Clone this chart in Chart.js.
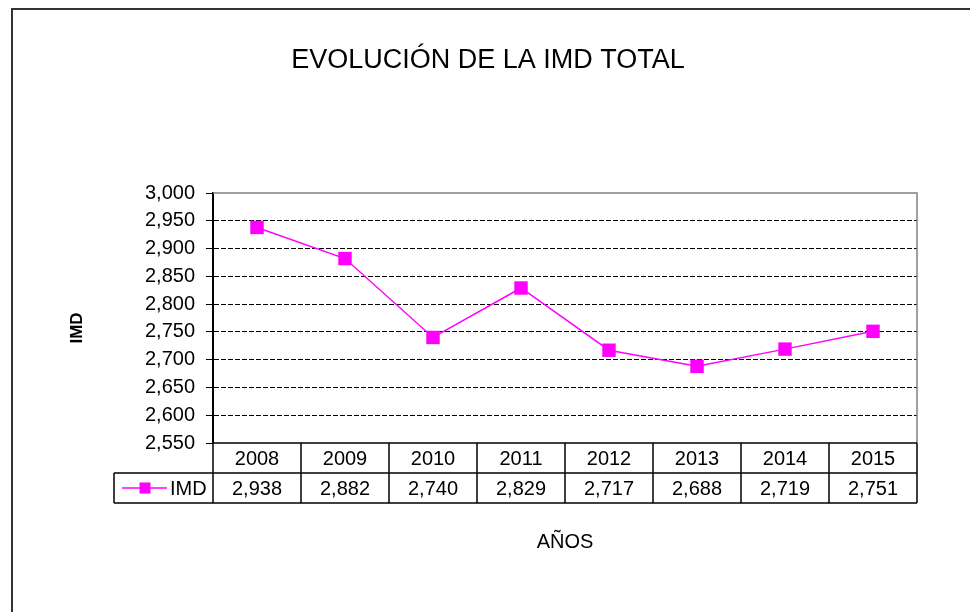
<!DOCTYPE html>
<html>
<head>
<meta charset="utf-8">
<script src="https://cdn.jsdelivr.net/npm/chart.js@4"></script>
<style>
  body { margin: 0; background: #fff; }
  canvas { display: block; }
</style>
</head>
<body>
<canvas id="imdChart" width="970" height="612"></canvas>
<script>
const years = ['2008', '2009', '2010', '2011', '2012', '2013', '2014', '2015'];
const imdValues = [2.938, 2.882, 2.740, 2.829, 2.717, 2.688, 2.719, 2.751];
const seriesName = 'IMD';
const yMin = 2.55;
const yMax = 3.0;
const yStep = 0.05;

const chartTitle = 'EVOLUCIÓN DE LA IMD TOTAL';
const xTitle = 'AÑOS';
const yTitle = 'IMD';

const font = '"Liberation Sans", Arial, sans-serif';
const magenta = '#FF00FF';

// comma as decimal mark, 3 decimals
const fmt = v => v.toFixed(3).replace('.', ',');

// frame, plot border, data table and titles
const tablePlugin = {
  id: 'tablePlugin',
  afterDraw(chart) {
    const ctx = chart.ctx;
    const area = chart.chartArea;
    const x = chart.scales.x;
    const band = x.getPixelForValue(1) - x.getPixelForValue(0);
    const rowH = 30;
    const row1 = area.bottom;
    const row2 = row1 + rowH;
    const row3 = row2 + rowH;
    const legendLeft = 114;

    ctx.save();

    // outer frame
    ctx.strokeStyle = '#333';
    ctx.lineWidth = 2;
    ctx.strokeRect(12, 9, 1000, 700);

    // plot area border (top + right)
    ctx.strokeStyle = '#808080';
    ctx.lineWidth = 1.5;
    ctx.beginPath();
    ctx.moveTo(area.left, area.top);
    ctx.lineTo(area.right, area.top);
    ctx.lineTo(area.right, area.bottom);
    ctx.stroke();

    // table lines
    ctx.strokeStyle = '#000';
    ctx.lineWidth = 1.5;
    ctx.beginPath();
    ctx.moveTo(area.left, row1); ctx.lineTo(area.right, row1);
    ctx.moveTo(legendLeft, row2); ctx.lineTo(area.right, row2);
    ctx.moveTo(legendLeft, row3); ctx.lineTo(area.right, row3);
    ctx.moveTo(legendLeft, row2); ctx.lineTo(legendLeft, row3);
    ctx.moveTo(area.left, row1); ctx.lineTo(area.left, row3);
    years.forEach((y, i) => {
      const r = x.getPixelForValue(i) + band / 2;
      ctx.moveTo(r, row1); ctx.lineTo(r, row3);
    });
    ctx.stroke();

    // table text
    ctx.fillStyle = '#000';
    ctx.font = '20px ' + font;
    ctx.textAlign = 'center';
    ctx.textBaseline = 'middle';
    years.forEach((y, i) => {
      const cx = x.getPixelForValue(i);
      ctx.fillText(y, cx, row1 + rowH / 2 + 1);
      ctx.fillText(fmt(imdValues[i]), cx, row2 + rowH / 2 + 1);
    });

    // legend key in the table
    const ly = row2 + rowH / 2;
    ctx.strokeStyle = magenta;
    ctx.lineWidth = 1.5;
    ctx.beginPath();
    ctx.moveTo(122, ly); ctx.lineTo(167, ly);
    ctx.stroke();
    ctx.fillStyle = magenta;
    ctx.fillRect(145 - 5.5, ly - 5.5, 11, 11);
    ctx.fillStyle = '#000';
    ctx.textAlign = 'left';
    ctx.fillText(seriesName, 170, ly + 1);

    // titles
    ctx.textAlign = 'center';
    ctx.font = '27px ' + font;
    ctx.fillText(chartTitle, 488, 61);
    ctx.font = '20px ' + font;
    ctx.fillText(xTitle, 565, 542);

    ctx.translate(77, 328);
    ctx.rotate(-Math.PI / 2);
    ctx.font = 'bold 17px ' + font;
    ctx.fillText(yTitle, 0, 0);

    ctx.restore();
  }
};

new Chart(document.getElementById('imdChart'), {
  type: 'line',
  data: {
    labels: years,
    datasets: [{
      label: seriesName,
      data: imdValues,
      borderColor: magenta,
      backgroundColor: magenta,
      borderWidth: 1.5,
      pointStyle: 'rect',
      pointRadius: 9.5,
      pointHoverRadius: 9.5,
      pointBorderWidth: 0,
      pointBackgroundColor: magenta,
      tension: 0,
      clip: false
    }]
  },
  options: {
    responsive: false,
    animation: false,
    devicePixelRatio: 1,
    layout: {
      padding: { top: 193, right: 53, bottom: 169, left: 0 }
    },
    plugins: {
      legend: { display: false },
      tooltip: { enabled: false },
      title: { display: false }
    },
    scales: {
      x: {
        display: false,
        offset: true
      },
      y: {
        min: yMin,
        max: yMax,
        afterFit: s => { s.width = 213; },
        ticks: {
          stepSize: yStep,
          padding: 11,
          color: '#000',
          font: { family: font, size: 20 },
          callback: v => fmt(v)
        },
        grid: {
          color: c => (c.tick && (Math.abs(c.tick.value - yMax) < 1e-6 || Math.abs(c.tick.value - yMin) < 1e-6)) ? 'rgba(0,0,0,0)' : '#000',
          lineWidth: 1,
          tickLength: 7,
          tickColor: '#000',
          tickWidth: 1
        },
        border: {
          display: true,
          color: '#000',
          width: 2,
          dash: [5, 2]
        }
      }
    }
  },
  plugins: [tablePlugin]
});
</script>
</body>
</html>
